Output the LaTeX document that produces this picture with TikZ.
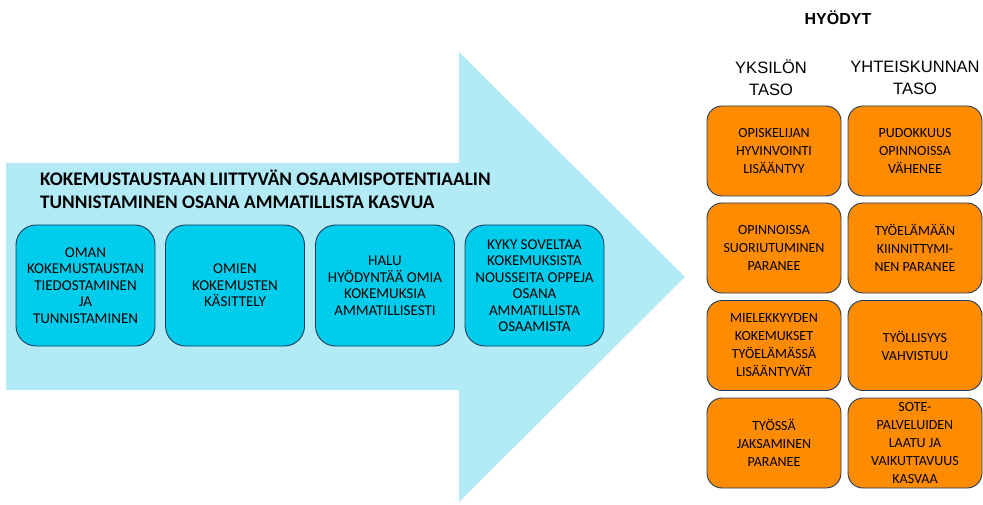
\documentclass[tikz,border=0pt]{standalone}
\usepackage{fontspec}
\setmainfont{Carlito}
\newfontfamily\arialfont{Liberation Sans}
\definecolor{nuoli}{HTML}{B2EBF6}
\definecolor{sininen}{HTML}{00CDEB}
\definecolor{oranssi}{HTML}{FF8B00}
\definecolor{reuna}{HTML}{1F3A5F}
\begin{document}
\begin{tikzpicture}[x=1pt,y=-1pt,
    osaaminen/.style={draw=reuna,line width=0.9pt,fill=sininen,rounded corners=20pt,
      minimum width=139pt,minimum height=121pt,align=center,inner sep=0pt,
      font=\fontsize{15}{16.5}\selectfont},
    hyoty/.style={draw=reuna,line width=0.9pt,fill=oranssi,rounded corners=15pt,
      minimum width=134pt,minimum height=90pt,align=center,inner sep=0pt,
      font=\fontsize{14}{18}\selectfont}]
      \useasboundingbox (0,0) rectangle (983,505);
      \fill[nuoli] (6,163) -- (459,163) -- (459,52) -- (685,277) -- (459,502)
        -- (459,390) -- (6,390) -- cycle;
      \node[anchor=north west,inner sep=0pt,align=left,
        font=\fontsize{19.2}{23}\selectfont\bfseries] (otsikko) at (40,170)
        {KOKEMUSTAUSTAAN LIITTYVÄN OSAAMISPOTENTIAALIN\\
         TUNNISTAMINEN OSANA AMMATILLISTA KASVUA};
      \draw
        (85.5,285.5) node[osaaminen] (o1){OMAN\\KOKEMUSTAUSTAN\\TIEDOSTAMINEN\\JA\\TUNNISTAMINEN}
        (235,285.5) node[osaaminen] (o2){OMIEN\\KOKEMUSTEN\\KÄSITTELY}
        (385,285.5) node[osaaminen] (o3){HALU\\HYÖDYNTÄÄ OMIA\\KOKEMUKSIA\\AMMATILLISESTI}
        (534.5,285.5) node[osaaminen] (o4){KYKY SOVELTAA\\KOKEMUKSISTA\\NOUSSEITA OPPEJA\\OSANA\\AMMATILLISTA\\OSAAMISTA};
      \begin{scope}[font=\arialfont]
        \node[font=\arialfont\fontsize{16}{19}\selectfont\bfseries] (hyodyt) at (838,18) {HYÖDYT};
        \node[align=center,font=\arialfont\fontsize{16.5}{22}\selectfont] (yksilo) at (771,78) {YKSILÖN\\TASO};
        \node[align=center,font=\arialfont\fontsize{16.5}{22}\selectfont] (yhteiskunta) at (915,78) {YHTEISKUNNAN\\TASO};
      \end{scope}
      \draw
        (774,151) node[hyoty] (y1){OPISKELIJAN\\HYVINVOINTI\\LISÄÄNTYY}
        (774,248) node[hyoty] (y2){OPINNOISSA\\SUORIUTUMINEN\\PARANEE}
        (774,345.5) node[hyoty] (y3){MIELEKKYYDEN\\KOKEMUKSET\\TYÖELÄMÄSSÄ\\LISÄÄNTYVÄT}
        (774,443) node[hyoty] (y4){TYÖSSÄ\\JAKSAMINEN\\PARANEE}
        (915,151) node[hyoty] (h1){PUDOKKUUS\\OPINNOISSA\\VÄHENEE}
        (915,248) node[hyoty] (h2){TYÖELÄMÄÄN\\KIINNITTYMI-\\NEN PARANEE}
        (915,345.5) node[hyoty] (h3){TYÖLLISYYS\\VAHVISTUU}
        (915,443) node[hyoty] (h4){SOTE-\\PALVELUIDEN\\LAATU JA\\VAIKUTTAVUUS\\KASVAA};
    \end{tikzpicture}
\end{document}
